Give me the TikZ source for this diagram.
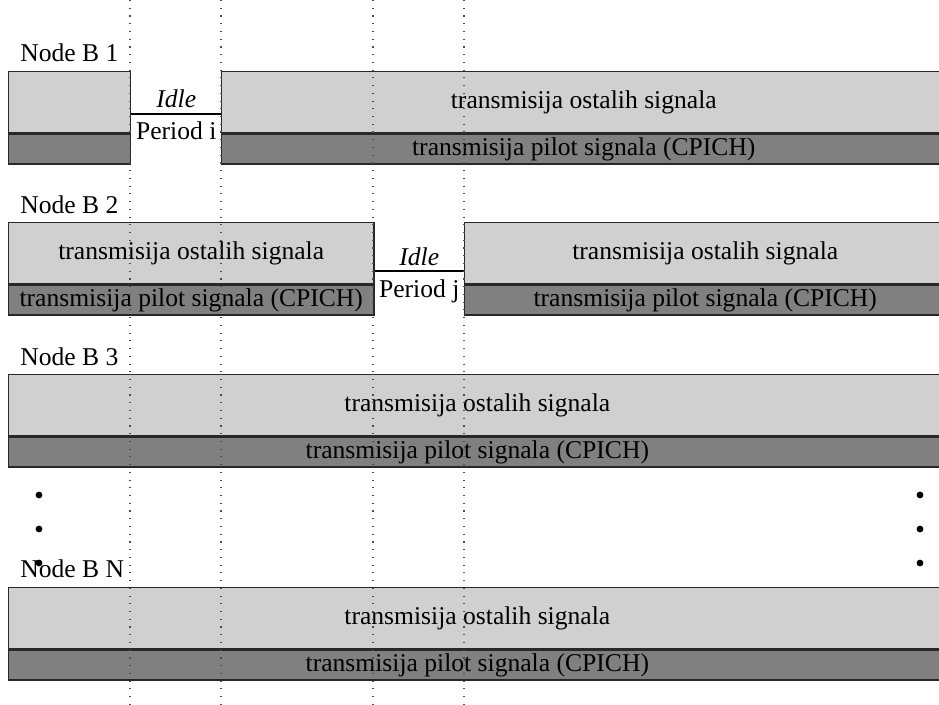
\documentclass[tikz,border=0pt]{standalone}
\usepackage{fontspec}
\setmainfont{Liberation Serif}
\usetikzlibrary{positioning,calc}

\definecolor{ostaliGray}{RGB}{208,208,208}
\definecolor{pilotGray}{RGB}{128,128,128}
\definecolor{rubGray}{RGB}{40,40,40}

\begin{document}
\begin{tikzpicture}[x=0.025cm, y=-0.025cm,
    every node/.style={font=\fontsize{18.2}{21}\selectfont},
    slot/.style={rectangle, draw=rubGray, line width=1pt, inner sep=0pt, anchor=north west},
    ostali/.style={slot, fill=ostaliGray, minimum height=1.525cm},
    pilot/.style={slot, fill=pilotGray, minimum height=0.75cm},
    idle/.style={line width=1.4pt},
    lbl/.style={anchor=base west, inner sep=0pt},
    granica/.style={line width=0.8pt, gray!60!black, dash pattern=on 0.8pt off 4.7pt},
    tacka/.style={circle, fill=black, inner sep=0pt, minimum size=0.17cm}]

    \path[use as bounding box, clip] (0,0) rectangle (939,704);

    % Node B 1
    \node[lbl] (lb1) at (20,61) {Node B 1};
    \node[ostali, minimum width=3.05cm] (b1o) at (8,71) {};
    \node[pilot, minimum width=3.05cm, below right=0pt and 0pt of b1o.south west] (b1p) {};
    \node[ostali, minimum width=18.1cm] (b1r) at (221,71) {transmisija ostalih signala};
    \node[pilot, minimum width=18.1cm, below right=0pt and 0pt of b1r.south west] (b1rp) {transmisija pilot signala (CPICH)};
    \draw[idle] ($(b1o.north east)!0.69!(b1o.south east)$)
        -- node[above, inner sep=3.5pt] (idle1) {\textit{Idle}}
           node[below, inner sep=5pt] (per1) {Period i}
        ($(b1r.north west)!0.69!(b1r.south west)$);

    % Node B 2
    \node[lbl] (lb2) at (20,213) {Node B 2};
    \node[ostali, minimum width=9.125cm] (b2o) at (8,222) {transmisija ostalih signala};
    \node[pilot, minimum width=9.125cm, below right=0pt and 0pt of b2o.south west] (b2p) {transmisija pilot signala (CPICH)};
    \node[ostali, minimum width=12.025cm] (b2r) at (464,222) {transmisija ostalih signala};
    \node[pilot, minimum width=12.025cm, below right=0pt and 0pt of b2r.south west] (b2rp) {transmisija pilot signala (CPICH)};
    \draw[idle] ($(b2o.north east)!0.79!(b2o.south east)$)
        -- node[above, inner sep=3.5pt] (idle2) {\textit{Idle}}
           node[below, inner sep=5pt] (per2) {Period j}
        ($(b2r.north west)!0.79!(b2r.south west)$);

    % Node B 3
    \node[lbl] (lb3) at (20,365) {Node B 3};
    \node[ostali, minimum width=23.425cm] (b3o) at (8,374) {transmisija ostalih signala};
    \node[pilot, minimum width=23.425cm, below right=0pt and 0pt of b3o.south west] (b3p) {transmisija pilot signala (CPICH)};

    % Node B N
    \node[lbl] (lbn) at (20,577) {Node B N};
    \node[ostali, minimum width=23.425cm] (bno) at (8,587) {transmisija ostalih signala};
    \node[pilot, minimum width=23.425cm, below right=0pt and 0pt of bno.south west] (bnp) {transmisija pilot signala (CPICH)};

    % vremenske granice
    \foreach \x in {130,221,373,464}
        \draw[granica] (\x,0) -- (\x,704);

    % tri tacke
    \foreach \y [count=\i] in {495,529,563} {
        \node[tacka] (lt\i) at (39,\y) {};
        \node[tacka] (dt\i) at (920,\y) {};
    }
\end{tikzpicture}
\end{document}
